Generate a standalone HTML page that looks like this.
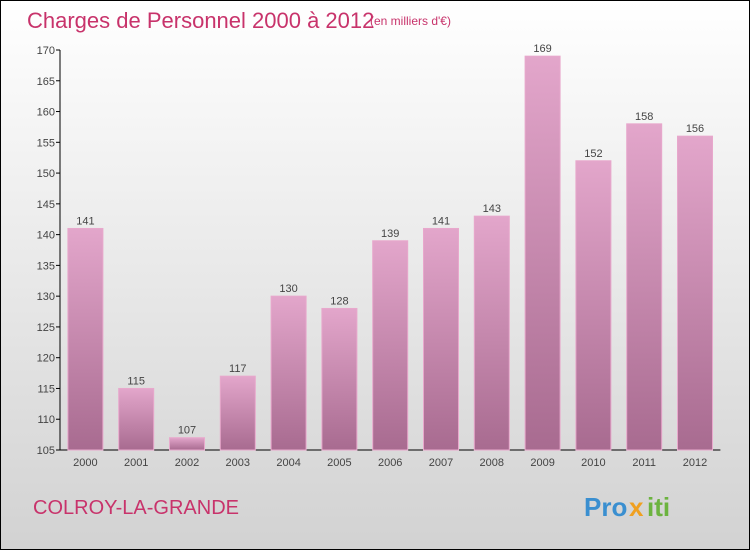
<!DOCTYPE html>
<html><head><meta charset="utf-8"><style>
html,body{margin:0;padding:0}
body{width:750px;height:550px;overflow:hidden;font-family:"Liberation Sans",sans-serif}
#wrap{position:absolute;left:0;top:0;width:748px;height:548px;border:1px solid #000;background:linear-gradient(#ffffff,#d2d2d2);}
</style></head><body>
<div id="wrap">
<svg id="chart" width="748" height="548">
<defs>
<linearGradient id="bg" x1="0" y1="0" x2="0" y2="1"><stop offset="0" stop-color="#e3a6cb"/><stop offset="1" stop-color="#a86b90"/></linearGradient>
</defs>
<text x="26" y="27" font-size="22" fill="#c8336b">Charges de Personnel 2000 à 2012</text>
<text x="369" y="24" font-size="12" fill="#c8336b">(en milliers d'€)</text>
<text x="32" y="513" font-size="20" fill="#c8336b">COLROY-LA-GRANDE</text>
<g font-size="26" font-weight="bold">
<text x="583" y="515" fill="#3a8fd0">Pro</text><text x="628" y="515" fill="#f0a020">x</text><text x="646" y="515" fill="#6cb33f">iti</text>
</g>
<g id="axes"></g><g id="bars"></g>
</svg>
</div>
<script>
const categories=["2000","2001","2002","2003","2004","2005","2006","2007","2008","2009","2010","2011","2012"];
const values=[141,115,107,117,130,128,139,141,143,169,152,158,156];
const yTicks=[105,110,115,120,125,130,135,140,145,150,155,160,165,170];
const NS="http://www.w3.org/2000/svg";
const x0=59,band=50.8,yMin=105,yMax=170,yTop=49,yBot=449;
function y(v){return yBot-(v-yMin)/(yMax-yMin)*(yBot-yTop);}
function xc(i){return x0+band*(i+0.5);}
function mk(tag,attrs,parent){const e=document.createElementNS(NS,tag);for(const k in attrs)e.setAttribute(k,attrs[k]);parent.appendChild(e);return e;}
const ax=document.getElementById('axes'),bg=document.getElementById('bars');
let l=mk('line',{x1:x0,y1:yTop,x2:x0,y2:yBot,stroke:'#000'},ax);


l=mk('line',{x1:x0,y1:yBot,x2:x0+band*13,y2:yBot,stroke:'#000'},ax);


yTicks.forEach(t=>{
 const tk=mk('line',{x1:x0-4,x2:x0,y1:y(t),y2:y(t),stroke:'#000'},ax);
 
 
 const tx=mk('text',{x:x0-5,y:y(t)+4,'font-size':11,fill:'#444','text-anchor':'end'},ax);
 tx.textContent=t;
 
 
});
categories.forEach((c,i)=>{
 const v=values[i];
 const r=mk('rect',{x:xc(i)-17.5,y:y(v),width:35,height:yBot-y(v),fill:'url(#bg)',stroke:'#e8a8cc','stroke-width':1},bg);
 
 
 const vl=mk('text',{x:xc(i),y:y(v)-4,'font-size':11,fill:'#444','text-anchor':'middle'},bg);
 vl.textContent=v;
 
 
 const cl=mk('text',{x:xc(i),y:yBot+16,'font-size':11,fill:'#444','text-anchor':'middle'},bg);
 cl.textContent=c;
 
 
});
</script>
</body></html>
